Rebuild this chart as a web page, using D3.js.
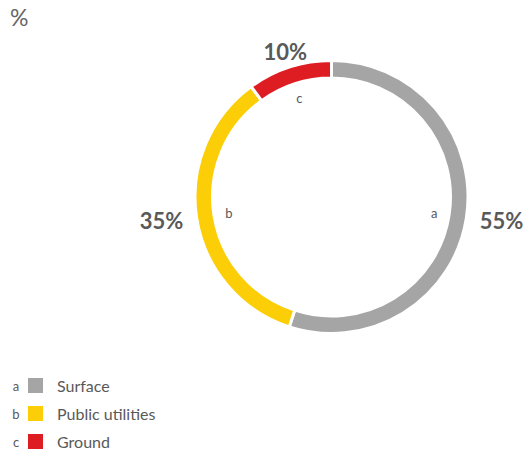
<!DOCTYPE html>
<html>
<head>
<meta charset="utf-8">
<script src="https://cdn.jsdelivr.net/npm/d3@7"></script>
<style>
	body { margin: 0; background: #fff; }
	svg text { font-family: Lato, "Open Sans", sans-serif; }
</style>
</head>
<body>
<svg id="chart" width="528" height="453"></svg>
<script>
// chart data
var keys = ["a", "b", "c"];
var categories = ["Surface", "Public utilities", "Ground"];
var values = [55, 35, 10];
var colours = ["#a5a5a5", "#fbce07", "#dd1d21"];

var width = 528, height = 453;
var cx = 331.5, cy = 197;
var outerR = 136.5, innerR = 119;

var svg = d3.select("#chart");

// unit label
svg.append("text")
	.attr("x", 10)
	.attr("y", 26)
	.attr("font-size", 23)
	.attr("fill", "#666")
	.text("%");

var pie = d3.pie().sort(null).value(function (d) { return d; });
var arcs = pie(values);

var arc = d3.arc().innerRadius(innerR).outerRadius(outerR);

var g = svg.append("g").attr("transform", "translate(" + cx + "," + cy + ")");

g.selectAll("path")
	.data(arcs)
	.enter()
	.append("path")
	.attr("d", arc)
	.attr("fill", function (d, i) { return colours[i]; })
	.attr("stroke", "#fff")
	.attr("stroke-width", 3);

// percentage labels outside the ring
function pos(d, r) {
	var a = (d.startAngle + d.endAngle) / 2;
	return [Math.sin(a) * r, -Math.cos(a) * r];
}

g.selectAll(".val")
	.data(arcs)
	.enter()
	.append("text")
	.attr("class", "val")
	.attr("x", function (d) { return pos(d, 150)[0]; })
	.attr("y", function (d) { return pos(d, 152)[1]; })
	.attr("dy", "0.36em")
	.attr("text-anchor", function (d) {
		var s = pos(d, 1)[0];
		if (Math.abs(s) < 0.5) return "middle";
		return s > 0 ? "start" : "end";
	})
	.attr("font-size", 22)
	.attr("font-weight", 700)
	.attr("fill", "#595959")
	.text(function (d) { return d.data + "%"; });

// letters inside
g.selectAll(".key")
	.data(arcs)
	.enter()
	.append("text")
	.attr("class", "key")
	.attr("x", function (d) { return pos(d, 104)[0]; })
	.attr("y", function (d) { return pos(d, 104)[1]; })
	.attr("dy", "0.35em")
	.attr("text-anchor", "middle")
	.attr("font-size", 13)
	.attr("fill", "#595959")
	.text(function (d, i) { return keys[i]; });

// legend
var legend = svg.append("g").attr("transform", "translate(0,378)");
var rows = legend.selectAll("g")
	.data(categories)
	.enter()
	.append("g")
	.attr("transform", function (d, i) { return "translate(0," + (i * 28) + ")"; });

rows.append("text")
	.attr("x", 16)
	.attr("y", 8)
	.attr("dy", "0.35em")
	.attr("text-anchor", "middle")
	.attr("font-size", 13)
	.attr("fill", "#595959")
	.text(function (d, i) { return keys[i]; });

rows.append("rect")
	.attr("x", 28)
	.attr("y", 0)
	.attr("width", 15)
	.attr("height", 15)
	.attr("fill", function (d, i) { return colours[i]; });

rows.append("text")
	.attr("x", 57)
	.attr("y", 8)
	.attr("dy", "0.35em")
	.attr("font-size", 16)
	.attr("fill", "#595959")
	.text(function (d) { return d; });
</script>
</body>
</html>
